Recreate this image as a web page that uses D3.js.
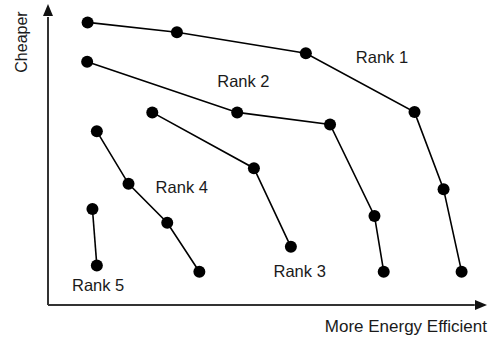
<!DOCTYPE html>
<html><head><meta charset="utf-8">
<script src="https://cdn.jsdelivr.net/npm/d3@7"></script>
<style>body{margin:0;background:#fff}svg{display:block}text{font-family:"Liberation Sans",Arial,sans-serif;font-size:16px;fill:#1a1a1a}</style>
</head><body>
<svg id="chart" width="499" height="339"></svg>
<script>
// Data (abstract units 0-100: x = energy efficiency, y = cheapness)
const rankNames = ["Rank 1","Rank 2","Rank 3","Rank 4","Rank 5"];
const rank1X = [9.0, 29.3, 58.6, 83.3, 89.9, 94.0];
const rank1Y = [94.2, 90.9, 83.9, 64.3, 38.6, 11.1];
const rank2X = [8.9, 43.0, 64.1, 74.2, 76.3];
const rank2Y = [81.1, 64.2, 60.2, 29.7, 11.1];
const rank3X = [23.7, 46.8, 55.2];
const rank3Y = [64.2, 45.6, 19.4];
const rank4X = [11.1, 18.3, 27.1, 34.4];
const rank4Y = [57.9, 40.4, 27.4, 11.1];
const rank5X = [10.1, 11.1];
const rank5Y = [32.0, 13.2];
const labelX = [75.9, 44.4, 57.2, 30.4, 11.4];
const labelY = [80.8, 72.8, 9.4, 37.3, 4.8];
const xTitle = "More Energy Efficient";
const yTitle = "Cheaper";

const svg = d3.select("#chart");
const x = d3.scaleLinear().domain([0,100]).range([48,488]);
const y = d3.scaleLinear().domain([0,100]).range([305,5]);

const series = [[rank1X,rank1Y],[rank2X,rank2Y],[rank3X,rank3Y],[rank4X,rank4Y],[rank5X,rank5Y]]
  .map(([xs,ys]) => xs.map((v,i)=>({x:v,y:ys[i]})));

// axes with arrows
const ax = svg.append("g").attr("stroke","#333").attr("stroke-width",2);
ax.append("line").attr("x1",x(0)).attr("y1",y(0)).attr("x2",x(0)).attr("y2",y(96));
ax.append("line").attr("x1",x(0)).attr("y1",y(0)).attr("x2",x(97)).attr("y2",y(0));
svg.append("path").attr("fill","#111")
  .attr("d",`M${x(0)},${y(100)-1} L${x(0)-5},${y(100)+11} L${x(0)+5},${y(100)+11} Z`);
svg.append("path").attr("fill","#111")
  .attr("d",`M${x(100)-1},${y(0)} L${x(100)-13},${y(0)-5} L${x(100)-13},${y(0)+5} Z`);

const line = d3.line().x(d=>x(d.x)).y(d=>y(d.y));
const g = svg.append("g");
series.forEach(s=>{
  g.append("path").attr("d",line(s)).attr("fill","none").attr("stroke","#000").attr("stroke-width",1.6);
  g.selectAll(null).data(s).enter().append("circle")
    .attr("cx",d=>x(d.x)).attr("cy",d=>y(d.y)).attr("r",6).attr("fill","#000");
});

svg.selectAll("text.lbl").data(rankNames).enter().append("text").attr("class","lbl")
  .style("font-size","16.5px")
  .attr("x",(d,i)=>x(labelX[i])).attr("y",(d,i)=>y(labelY[i])).attr("text-anchor","middle").text(d=>d);

svg.append("text").style("font-size","17px").attr("x",487).attr("y",332).attr("text-anchor","end").text(xTitle);
svg.append("text").attr("transform","translate(26.5,42) rotate(-90)").attr("text-anchor","middle").text(yTitle);
</script>
</body></html>
